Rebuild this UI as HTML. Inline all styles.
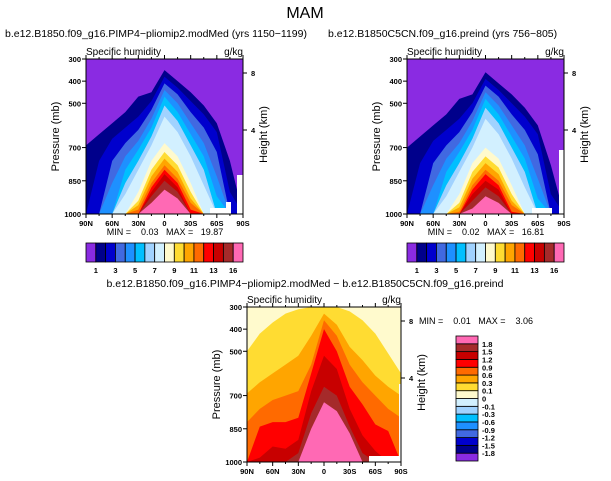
<!DOCTYPE html>
<html><head><meta charset="utf-8"><style>
html,body{margin:0;padding:0;background:#fff;}
svg{display:block;font-family:"Liberation Sans",sans-serif;}
.pre{white-space:pre;}
</style></head><body>
<svg id="chart" width="611" height="481" viewBox="0 0 611 481" xmlns="http://www.w3.org/2000/svg">
<text x="305" y="18" font-size="16" text-anchor="middle">MAM</text>
</svg>
<script>
// ---- data ----
const lats = [90,75,60,45,30,15,0,-15,-30,-45,-60,-75,-90];
const colorsAbs = ["#8a2be2","#00008b","#0000cd","#4169e1","#1e90ff","#00bfff","#a0d2ff","#d2f0ff","#fffacd","#ffdc32","#ffa500","#ff6a00","#ff0000","#c80000","#a52a2a","#ff69b4"];
const absLabels = ["1","3","5","7","9","11","13","16"];
const diffColors = ["#8a2be2","#00008b","#0000cd","#4169e1","#1e90ff","#00bfff","#a0d2ff","#d2f0ff","#fffacd","#ffdc32","#ffa500","#ff6a00","#ff0000","#c80000","#a52a2a","#ff69b4"];
const diffLabels = ["-1.8","-1.5","-1.2","-0.9","-0.6","-0.3","-0.1","0","0.1","0.3","0.6","0.9","1.2","1.5","1.8"];
// contour top-boundary pressures (mb) per level, panel 1
const p1L1  = [690,640,590,540,470,450,350,400,450,510,590,760,1000];
const p1L2  = [1000,760,660,610,560,490,380,430,490,550,630,900,1000];
const p1L3  = [1000,1000,760,680,620,530,410,460,540,610,720,1000,1000];
const p1L4  = [1000,1000,860,740,670,570,440,500,590,680,830,1000,1000];
const p1L5  = [1000,1000,1000,800,710,610,470,540,640,740,920,1000,1000];
const p1L6  = [1000,1000,1000,860,760,650,510,580,690,800,1000,1000,1000];
const p1L7  = [1000,1000,1000,910,800,690,560,630,740,870,1000,1000,1000];
const p1L8  = [1000,1000,1000,1000,900,760,680,740,860,1000,1000,1000,1000];
const p1L9  = [1000,1000,1000,1000,940,800,720,780,900,1000,1000,1000,1000];
const p1L10 = [1000,1000,1000,1000,960,830,750,810,930,1000,1000,1000,1000];
const p1L11 = [1000,1000,1000,1000,980,860,780,840,950,1000,1000,1000,1000];
const p1L12 = [1000,1000,1000,1000,1000,880,800,860,980,1000,1000,1000,1000];
const p1L13 = [1000,1000,1000,1000,1000,900,820,880,1000,1000,1000,1000,1000];
const p1L14 = [1000,1000,1000,1000,1000,920,850,900,1000,1000,1000,1000,1000];
const p1L15 = [1000,1000,1000,1000,1000,950,890,930,1000,1000,1000,1000,1000];
// panel 2
const p2L1  = [700,650,600,550,480,460,360,410,460,520,600,780,1000];
const p2L2  = [1000,770,670,620,570,500,390,440,500,560,640,910,1000];
const p2L3  = [1000,1000,770,690,630,540,420,470,550,620,730,1000,1000];
const p2L4  = [1000,1000,870,750,680,580,450,510,600,690,840,1000,1000];
const p2L5  = [1000,1000,1000,810,720,620,480,550,650,750,930,1000,1000];
const p2L6  = [1000,1000,1000,870,770,660,520,590,700,810,1000,1000,1000];
const p2L7  = [1000,1000,1000,920,810,700,570,640,750,880,1000,1000,1000];
const p2L8  = [1000,1000,1000,1000,910,770,700,750,870,1000,1000,1000,1000];
const p2L9  = [1000,1000,1000,1000,950,810,740,790,910,1000,1000,1000,1000];
const p2L10 = [1000,1000,1000,1000,970,840,770,820,940,1000,1000,1000,1000];
const p2L11 = [1000,1000,1000,1000,990,870,800,850,960,1000,1000,1000,1000];
const p2L12 = [1000,1000,1000,1000,1000,890,820,870,990,1000,1000,1000,1000];
const p2L13 = [1000,1000,1000,1000,1000,910,850,890,1000,1000,1000,1000,1000];
const p2L14 = [1000,1000,1000,1000,1000,940,880,920,1000,1000,1000,1000,1000];
const p2L15 = [1000,1000,1000,1000,1000,975,920,950,1000,1000,1000,1000,1000];
// panel 3 (difference), levels above 0.1 .. 1.8 (colour index 9..15)
const p3L9  = [500,420,370,330,310,300,300,300,320,360,420,510,600];
const p3L10 = [690,640,600,560,520,430,330,380,480,540,610,660,700];
const p3L11 = [820,760,720,700,680,560,360,430,560,640,700,760,800];
const p3L12 = [1000,840,820,820,800,600,400,500,660,740,830,860,1000];
const p3L13 = [1000,980,930,940,900,680,520,580,760,880,950,1000,1000];
const p3L14 = [1000,1000,1000,1000,960,780,660,700,840,960,1000,1000,1000];
const p3L15 = [1000,1000,1000,1000,1000,850,730,770,870,1000,1000,1000,1000];

const NS="http://www.w3.org/2000/svg";
const svg=document.getElementById('chart');
function mk(tag,attrs,parent){const e=document.createElementNS(NS,tag);for(const k in attrs)e.setAttribute(k,attrs[k]);(parent||svg).appendChild(e);return e;}
function txt(x,y,s,size,anchor,parent,extra){const t=mk('text',Object.assign({x:x,y:y,'font-size':size,'text-anchor':anchor||'start'},extra||{}),parent);t.textContent=s;return t;}

function panel(name,x0,y0,w,h,bg,levels,startIdx,colors,masks){
  const g=mk('g',{});
  
  
  const xs=lat=>x0+(90-lat)/180*w;
  const ys=p=>y0+(p-300)/700*h;
  const bgr=mk('rect',{x:x0,y:y0,width:w,height:h,fill:bg},g);
  
  
  levels.forEach((arr,i)=>{
    let pts=[[xs(90),ys(1000)]];
    arr.forEach((p,j)=>pts.push([xs(lats[j]),ys(p)]));
    pts.push([xs(-90),ys(1000)]);
    const pg=mk('polygon',{points:pts.map(q=>q[0].toFixed(1)+','+q[1].toFixed(1)).join(' '),fill:colors[startIdx+i]},g);
    
    
  });
  masks.forEach(m=>{const r=mk('rect',{x:m[0],y:m[1],width:m[2],height:m[3],fill:'#fff'},g);
    
    });
  const fr=mk('rect',{x:x0,y:y0,width:w,height:h,fill:'none',stroke:'#000','stroke-width':1},g);
  
  
  [300,400,500,700,850,1000].forEach(p=>{
    mk('line',{x1:x0-4,x2:x0,y1:ys(p),y2:ys(p),stroke:'#000'},g);
    const t=txt(x0-5,ys(p)+3,String(p),7.5,'end',g,{'font-weight':'bold'});
    
    
  });
  const ll=[[90,'90N'],[60,'60N'],[30,'30N'],[0,'0'],[-30,'30S'],[-60,'60S'],[-90,'90S']];
  ll.forEach(a=>{
    mk('line',{x1:xs(a[0]),x2:xs(a[0]),y1:y0+h,y2:y0+h+4,stroke:'#000'},g);
    mk('line',{x1:xs(a[0]),x2:xs(a[0]),y1:y0,y2:y0-4,stroke:'#000'},g);
    const t=txt(xs(a[0]),y0+h+12,a[1],7.5,'middle',g,{'font-weight':'bold'});
    
    
  });
  for(let l=75;l>-90;l-=15){ if(l%30!==0){mk('line',{x1:xs(l),x2:xs(l),y1:y0+h,y2:y0+h+2,stroke:'#000'},g);mk('line',{x1:xs(l),x2:xs(l),y1:y0,y2:y0-2,stroke:'#000'},g);} }
  [[8,14],[4,71]].forEach(a=>{
    mk('line',{x1:x0+w,x2:x0+w+4,y1:y0+a[1],y2:y0+a[1],stroke:'#000'},g);
    const t=txt(x0+w+8,y0+a[1]+3,String(a[0]),7.5,'start',g,{'font-weight':'bold'});
    
    
  });
  const t1=txt(x0,y0-4,'Specific humidity',10,'start',g);
  
  
  const t2=txt(x0+w,y0-4,'g/kg',10,'end',g);
  
  
  const t3=txt(0,0,'Pressure (mb)',11,'middle',g,{transform:'translate('+(x0-27)+','+(y0+h/2)+') rotate(-90)'});
  
  
  const t4=txt(0,0,'Height (km)',11,'middle',g,{transform:'translate('+(x0+w+24)+','+(y0+h/2-2)+') rotate(-90)'});
  
  
  return g;
}

function hbar(name,x0,y0,w,h,colors,labels){
  const g=mk('g',{});
  
  
  const bw=w/colors.length;
  colors.forEach((c,i)=>{const r=mk('rect',{x:x0+i*bw,y:y0,width:bw,height:h,fill:c,stroke:'#000','stroke-width':0.8},g);
    
    });
  labels.forEach((s,i)=>{const t=txt(x0+(1+2*i)*bw,y0+h+11,s,7.5,'middle',g,{'font-weight':'bold'});
    
    });
}
function vbar(name,x0,y0,w,h,colors,labels){
  const g=mk('g',{});
  
  
  const bh=h/colors.length;
  colors.forEach((c,i)=>{const r=mk('rect',{x:x0,y:y0+h-(i+1)*bh,width:w,height:bh,fill:c,stroke:'#000','stroke-width':0.8},g);
    
    });
  labels.forEach((s,i)=>{const t=txt(x0+w+4,y0+h-(i+1)*bh+3,s,7.5,'start',g,{'font-weight':'bold'});
    
    });
}

panel('panel-pimp4',86,59,157,155,colorsAbs[0],[p1L1,p1L2,p1L3,p1L4,p1L5,p1L6,p1L7,p1L8,p1L9,p1L10,p1L11,p1L12,p1L13,p1L14,p1L15],1,colorsAbs,[[210,208,17,6],[226,202,5,12],[237,175,6,39]]);
panel('panel-preind',407,59,157,155,colorsAbs[0],[p2L1,p2L2,p2L3,p2L4,p2L5,p2L6,p2L7,p2L8,p2L9,p2L10,p2L11,p2L12,p2L13,p2L14,p2L15],1,colorsAbs,[[532,208,20,6],[559,150,5,64]]);
panel('panel-difference',247,307,154,155,diffColors[8],[p3L9,p3L10,p3L11,p3L12,p3L13,p3L14,p3L15],9,diffColors,[[369,456,33,6],[399,384,3,78]]);

hbar('colorbar-pimp4',86,243,157,19,colorsAbs,absLabels);
hbar('colorbar-preind',407,243,157,19,colorsAbs,absLabels);
vbar('colorbar-difference',456,336,22,125,diffColors,diffLabels);

let t;
t=txt(5,37,'b.e12.B1850.f09_g16.PIMP4\u2212pliomip2.modMed (yrs 1150\u22121199)',10.5,'start');


t=txt(328,37,'b.e12.B1850C5CN.f09_g16.preind (yrs 756\u2212805)',10.5,'start');


t=txt(305,287,'b.e12.B1850.f09_g16.PIMP4\u2212pliomip2.modMed \u2212 b.e12.B1850C5CN.f09_g16.preind',10.5,'middle');


t=txt(165,235,'MIN =    0.03   MAX =   19.87',9,'middle',null,{'class':'pre'});


t=txt(486,235,'MIN =    0.02   MAX =   16.81',9,'middle',null,{'class':'pre'});


t=txt(419,324,'MIN =    0.01   MAX =    3.06',9,'start',null,{'class':'pre'});


</script>
</body></html>
